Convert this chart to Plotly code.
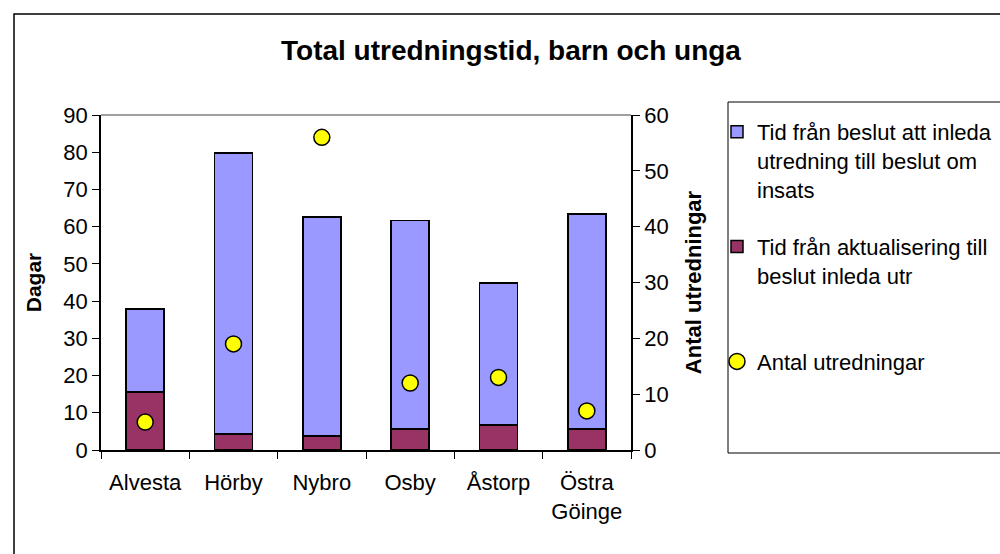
import plotly.graph_objects as go

categories = ["Alvesta", "Hörby", "Nybro", "Osby", "Åstorp", "Östra<br>Göinge"]
tid_aktualisering = [15.6, 4.3, 3.8, 5.6, 6.7, 5.6]
tid_beslut = [22.3, 75.5, 58.8, 56.0, 38.2, 57.8]
antal_utredningar = [5, 19, 56, 12, 13, 7]

FONT = "Liberation Sans"

fig = go.Figure()
fig.add_trace(go.Bar(
    x=categories, y=tid_aktualisering,
    name="Tid från aktualisering till<br>beslut inleda utr<br> ",
    marker=dict(color="#993366", line=dict(color="black", width=1.5)),
    width=0.43, legendgroup="b", legendrank=2,
))
fig.add_trace(go.Bar(
    x=categories, y=tid_beslut,
    name="Tid från beslut att inleda<br>utredning till beslut om<br>insats",
    marker=dict(color="#9999FF", line=dict(color="black", width=1.5)),
    width=0.43, legendgroup="a", legendrank=1,
))
fig.add_trace(go.Scatter(
    x=categories, y=antal_utredningar, yaxis="y2", mode="markers",
    name="Antal utredningar",
    marker=dict(color="#FFFF00", size=16, line=dict(color="black", width=1.5)),
    legendgroup="c", legendrank=3,
))

axis_font = dict(family=FONT, size=22, color="black")
fig.update_layout(
    width=1000, height=554,
    margin=dict(l=101, r=369, t=115, b=104, autoexpand=False),
    paper_bgcolor="white", plot_bgcolor="white",
    barmode="stack",
    font=dict(family=FONT, size=22, color="black"),
    title=dict(text="<b>Total utredningstid, barn och unga</b>",
               x=0.511, xanchor="center", y=1 - 50 / 554, yanchor="middle",
               font=dict(family=FONT, size=28, color="black")),
    xaxis=dict(showline=True, linecolor="black", linewidth=1.5, automargin=False,
               ticks="outside", ticklen=7, tickcolor="black", tickson="boundaries",
               tickfont=axis_font, showgrid=False, ticklabelstandoff=12),
    yaxis=dict(range=[0, 90], dtick=10, showline=True, linecolor="black", linewidth=1.5,
               ticks="outside", ticklen=7, tickcolor="black", tickfont=axis_font,
               showgrid=False, zeroline=False, automargin=False,
               title=dict(text="<b>Dagar</b>", font=dict(family=FONT, size=21), standoff=16)),
    yaxis2=dict(range=[0, 60], dtick=10, overlaying="y", side="right", showline=True,
                linecolor="black", linewidth=1.5, ticks="outside", ticklen=7, tickcolor="black",
                tickfont=axis_font, showgrid=False, zeroline=False, automargin=False,
                title=dict(text="<b>Antal utredningar</b>", font=dict(family=FONT, size=22), standoff=18)),
    legend=dict(x=(717 - 101) / 530, xanchor="left", y=(450 - 111) / 335, yanchor="top",
                borderwidth=0, bgcolor="rgba(0,0,0,0)",
                font=dict(family=FONT, size=22, color="black"),
                traceorder="grouped", tracegroupgap=26, valign="top", maxheight=600),
    showlegend=True,
)
# plot-area top border, legend frame and outer chart border
fig.add_shape(type="line", xref="paper", yref="paper", x0=0, x1=1, y0=1, y1=1,
              line=dict(color="#808080", width=1.5))
fig.add_shape(type="rect", xref="paper", yref="paper",
              x0=(728 - 101) / 530, x1=(1010 - 101) / 530,
              y0=(450 - 453) / 335, y1=(450 - 102) / 335,
              line=dict(color="black", width=1), fillcolor="white", layer="below")
fig.add_shape(type="rect", xref="paper", yref="paper",
              x0=(14 - 101) / 530, x1=(1010 - 101) / 530,
              y0=(450 - 570) / 335, y1=(450 - 14) / 335,
              line=dict(color="black", width=1.5), layer="below")

fig.write_html("out.html", config={"displayModeBar": False},
               post_script="document.body.style.margin='0';document.body.style.overflow='hidden';")
